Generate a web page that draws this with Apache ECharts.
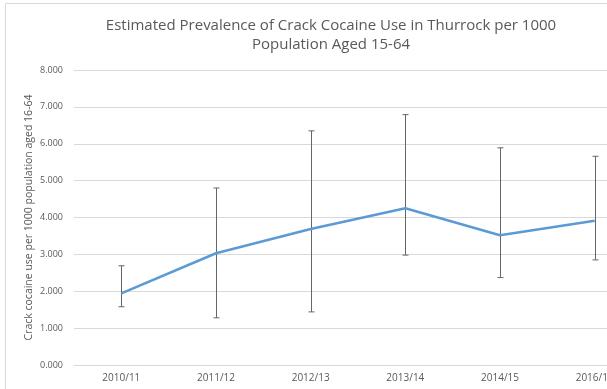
<!DOCTYPE html>
<html>
<head>
<meta charset="utf-8">
<script src="https://cdn.jsdelivr.net/npm/echarts@6/dist/echarts.min.js"></script>
<style>
  html, body { margin: 0; padding: 0; background: #fff; }
  #chart { width: 607px; height: 389px; }
</style>
</head>
<body>
<div id="chart"></div>
<script>
// Financial years
const years = ['2010/11', '2011/12', '2012/13', '2013/14', '2014/15', '2016/17'];
// Estimated prevalence per 1000 population
const prevalence = [1.94, 3.03, 3.69, 4.25, 3.52, 3.91];
// Confidence interval bounds
const lowerBound = [1.58, 1.28, 1.44, 2.98, 2.37, 2.85];
const upperBound = [2.69, 4.80, 6.35, 6.79, 5.89, 5.66];
// Y axis ticks
const yTicks = [0, 1, 2, 3, 4, 5, 6, 7, 8];

const FONT = 'Open Sans';
const chart = echarts.init(document.getElementById('chart'));

const errorData = years.map((y, i) => [i, lowerBound[i], upperBound[i]]);

chart.setOption({
  animation: false,
  backgroundColor: '#ffffff',
  graphic: [
    {
      type: 'rect',
      shape: { x: 5.5, y: 3.5, width: 700, height: 500 },
      style: { fill: 'none', stroke: '#d9d9d9', lineWidth: 1 },
      silent: true
    },
    {
      type: 'text',
      style: {
        x: 331, y: 16,
        text: 'Estimated Prevalence of Crack Cocaine Use in Thurrock per 1000\nPopulation Aged 15-64',
        textAlign: 'center',
        fill: '#595959',
        font: '15px "' + FONT + '"',
        lineHeight: 19
      },
      silent: true
    }
  ],
  // plot area runs past the right edge of the page
  grid: { left: 74, width: 568, top: 70, bottom: 24, outerBoundsMode: 'none', containLabel: false },
  xAxis: {
    type: 'category',
    data: years,
    boundaryGap: true,
    axisTick: { show: false },
    axisLine: { lineStyle: { color: '#d9d9d9', width: 1 } },
    axisLabel: { color: '#595959', fontSize: 10, fontFamily: FONT, margin: 8 }
  },
  yAxis: {
    type: 'value',
    min: yTicks[0],
    max: yTicks[yTicks.length - 1],
    interval: 1,
    name: 'Crack cocaine use per 1000 population aged 16-64',
    nameLocation: 'middle',
    nameGap: 39,
    nameMoveOverlap: false,
    nameTextStyle: { color: '#595959', fontSize: 10.5, fontFamily: FONT },
    axisLine: { show: false },
    axisTick: { show: false },
    splitLine: { lineStyle: { color: '#d9d9d9', width: 1 } },
    axisLabel: {
      color: '#595959', fontSize: 9, fontFamily: FONT, margin: 11,
      formatter: v => v.toFixed(3)
    }
  },
  series: [
    {
      type: 'line',
      data: prevalence,
      showSymbol: false,
      symbol: 'none',
      lineStyle: { color: '#5B9BD5', width: 2.5 },
      z: 3
    },
    {
      type: 'custom',
      data: errorData,
      z: 2,
      renderItem: function (params, api) {
        const x = api.value(0);
        const lo = api.coord([x, api.value(1)]);
        const hi = api.coord([x, api.value(2)]);
        const cap = 3;
        const style = { stroke: '#666666', lineWidth: 1 };
        const cx = Math.round(lo[0]) + 0.5;
        return {
          type: 'group',
          children: [
            { type: 'line', shape: { x1: cx, y1: hi[1], x2: cx, y2: lo[1] }, style },
            { type: 'line', shape: { x1: cx - cap, y1: hi[1], x2: cx + cap, y2: hi[1] }, style },
            { type: 'line', shape: { x1: cx - cap, y1: lo[1], x2: cx + cap, y2: lo[1] }, style }
          ]
        };
      }
    }
  ]
});
</script>
</body>
</html>
